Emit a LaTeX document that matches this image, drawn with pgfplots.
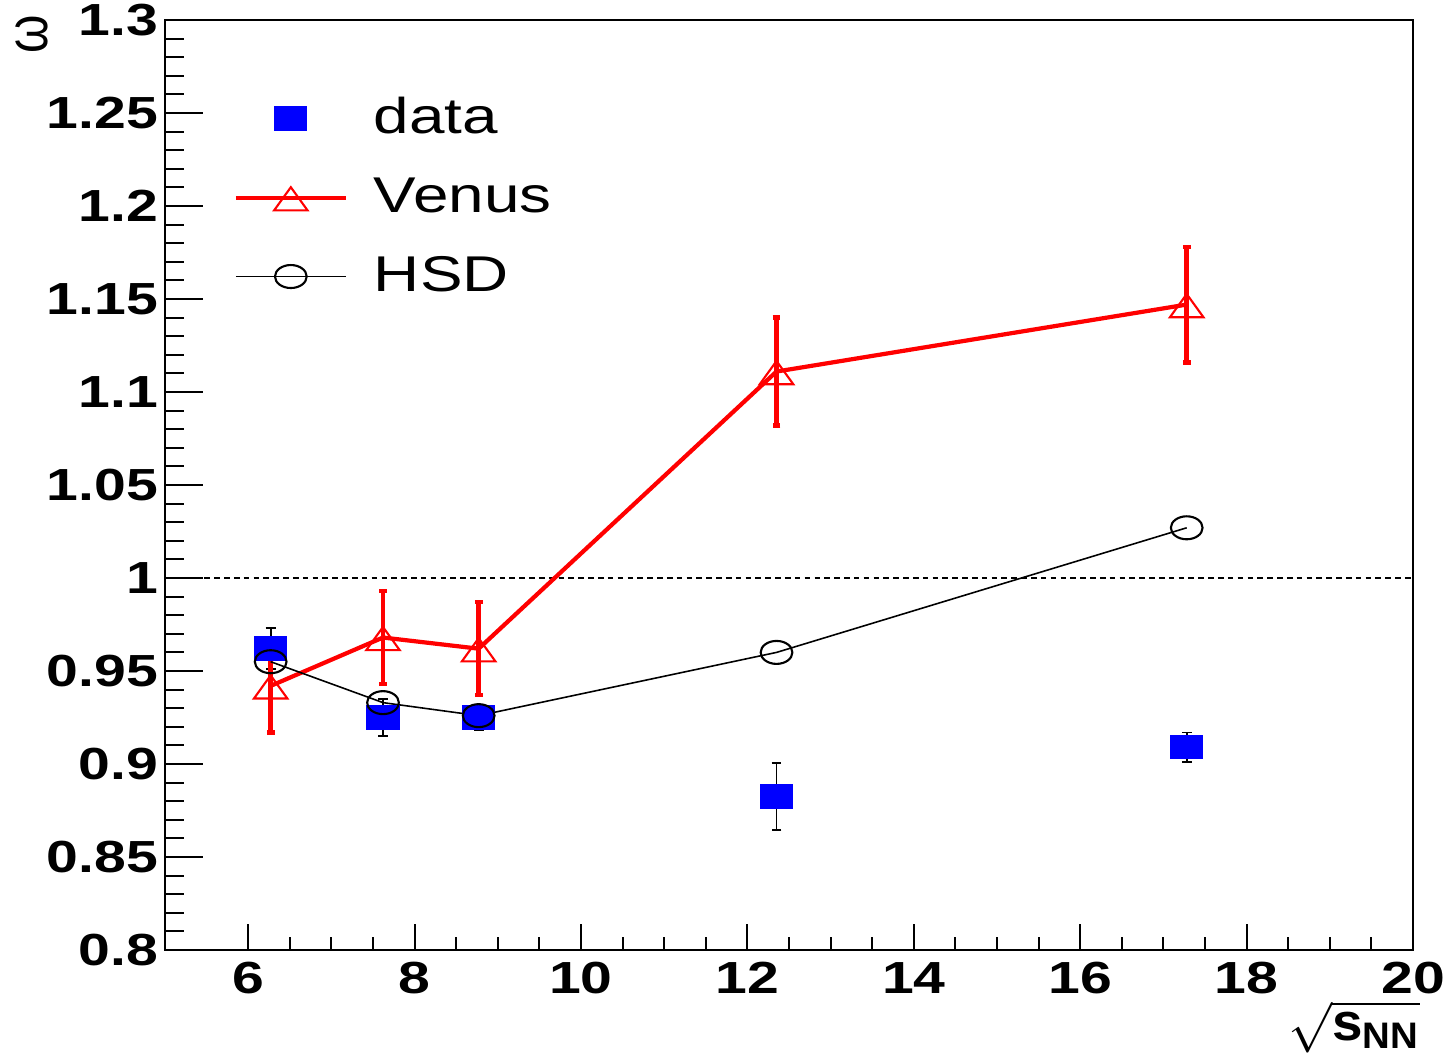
\documentclass[border=0pt]{standalone}
\usepackage{pgfplots}
\pgfplotsset{compat=1.18}
\usepackage{amsmath}
\usepackage{graphicx}
\usepackage{fontspec}
\setmainfont{Liberation Sans}
\newcommand{\wide}[1]{\scalebox{1.27}[1]{#1}}
\begin{document}
\begin{tikzpicture}
\begin{axis}[name=ax, scale only axis, width=12.48cm, height=9.3cm,
 xmin=5, xmax=20, ymin=0.8, ymax=1.3,
 xtick={6,8,10,12,14,16,18,20},
 ytick={0.8,0.85,0.9,0.95,1,1.05,1.1,1.15,1.2,1.25,1.3},
 yticklabels={0.8,0.85,0.9,0.95,1,1.05,1.1,1.15,1.2,1.25,1.3},
 minor x tick num=3, minor y tick num=4,
 tick align=inside, xtick pos=bottom, ytick pos=left,
 major tick length=0.38cm, minor tick length=0.19cm,
 xtick style={/pgfplots/major tick length=0.26cm,/pgfplots/minor tick length=0.13cm},
 tick style={black, line width=0.6pt},
 axis line style={line width=0.7pt},
 ticklabel style={font=\fontsize{12.8}{12.8}\selectfont\bfseries, xscale=1.27},
 yticklabel style={xshift=0.07cm},
 /pgf/number format/assume math mode=true,
 ylabel={\fontsize{14}{14}\selectfont ω},
 every axis y label/.style={at={(rel axis cs:-0.1066,0.985)}, rotate=90, anchor=center, yscale=1.2},
 xlabel={\fontsize{15}{15}\selectfont $\sqrt{\text{\bfseries s}_{\text{\bfseries NN}}}$},
 every axis x label/.style={at={(rel axis cs:0.953,-0.083)}, anchor=center, xscale=1.04},
 legend image code/.code={\draw[mark repeat=2,mark phase=2,#1] plot coordinates {(0cm,0cm) (0.55cm,0cm) (1.1cm,0cm)};},
 legend style={draw=none, fill=none, inner sep=0pt, at={(rel axis cs:0.0545,0.925)}, anchor=north west,
   font=\fontsize{14.3}{14.3}\selectfont, row sep=7pt, legend cell align=left,
   /tikz/every odd column/.append style={column sep=0.19cm}},
]
\addplot[black, line width=0.4pt, dash pattern=on 1.6pt off 1.2pt, forget plot] coordinates {(5,1) (20,1)};

\addplot[only marks, mark=square*, color=blue, mark size=3.27pt, mark options={xscale=1.38},
  error bars/.cd, y dir=both, y explicit,
  error bar style={black, line width=0.5pt},
  error mark options={black, rotate=90, mark size=1.4pt, line width=0.5pt}]
 coordinates {
 (6.27,0.962) +- (0,0.011)
 (7.62,0.925) +- (0,0.010)
 (8.77,0.925) +- (0,0.007)
 (12.35,0.8825) +- (0,0.018)
 (17.28,0.909) +- (0,0.008)
 };
\addlegendentry{\wide{data}}

\addplot[red, line width=1.2pt, mark=triangle, mark size=4.4pt,
  mark options={solid, xscale=1.25, yshift=-1.4pt, line width=0.6pt},
  error bars/.cd, y dir=both, y explicit,
  error bar style={red, line width=1.3pt},
  error mark options={red, rotate=90, mark size=1.1pt, line width=1.3pt}]
 coordinates {
 (6.27,0.942) +- (0,0.025)
 (7.62,0.968) +- (0,0.025)
 (8.77,0.962) +- (0,0.025)
 (12.35,1.111) +- (0,0.029)
 (17.28,1.147) +- (0,0.031)
 };
\addlegendentry{\wide{Venus}}

\addplot[black, line width=0.45pt, mark=o, mark size=3.27pt, mark options={xscale=1.38, line width=0.6pt}]
 coordinates {
 (6.27,0.955)
 (7.62,0.933)
 (8.77,0.926)
 (12.35,0.960)
 (17.28,1.027)
 };
\addlegendentry{\wide{HSD}}
\end{axis}
\pgfresetboundingbox
\path[use as bounding box] ([xshift=-1.65cm,yshift=-1.06cm]ax.south west) rectangle ([xshift=0.40cm,yshift=0.20cm]ax.north east);
\end{tikzpicture}
\end{document}
